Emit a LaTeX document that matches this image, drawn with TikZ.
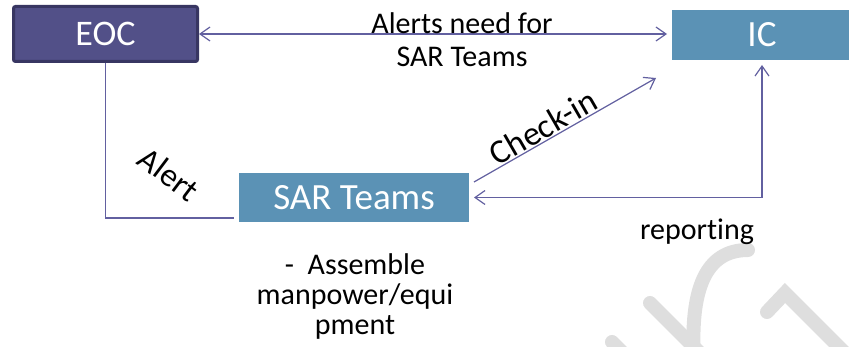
\documentclass[tikz,border=0pt]{standalone}
\usepackage{fontspec}
\setmainfont{Carlito}[Ligatures=CommonOff]
\usetikzlibrary{arrows.meta,shadows,backgrounds}
\definecolor{eocfill}{RGB}{82,80,136}
\definecolor{eocline}{RGB}{56,54,98}
\definecolor{teamfill}{RGB}{91,146,181}
\definecolor{linkcol}{RGB}{98,96,160}
\definecolor{markgray}{RGB}{222,222,222}

\begin{document}
\begin{tikzpicture}[x=1pt,y=-1pt,>={Straight Barb[length=10pt,width=14pt]},
                    link/.style={draw=linkcol,line width=1.2pt},
                    dark node/.style={rectangle,rounded corners=2pt,fill=eocfill,draw=eocline,line width=3pt,
                      text=white,font=\fontsize{36}{40}\selectfont},
                    team node/.style={rectangle,fill=teamfill,draw=white,line width=5pt,text=white,
                      font=\fontsize{37}{40}\selectfont,
                      drop shadow={shadow xshift=1pt,shadow yshift=-2pt,opacity=0.3}},
                    note/.style={font=\fontsize{30}{33}\selectfont,align=center}]
  \useasboundingbox (0,0) rectangle (849,347);
  \node[dark node,minimum width=184pt,minimum height=55pt] (eoc) at (105.5,34) {EOC};
  \node[team node,minimum width=185pt,minimum height=55pt] (ic) at (762,35) {IC};
  \node[team node,minimum width=235pt,minimum height=54pt] (sar) at (354,197.5) {SAR Teams};
  \begin{scope}[on background layer]
    % faint mark in the corner
    \begin{scope}[draw=markgray,line width=14pt,line cap=round]
      \draw (694,360) .. controls (690,290) and (705,250) .. (748,250);
      \draw (650,303) -- (710,363);
      \draw (612,342) -- (640,370);
      \draw (767,312) -- (785,293) -- (860,368);
    \end{scope}
    \draw[link,->] (eoc.south) |- ([xshift=12pt,yshift=9pt]sar.south west);
  \end{scope}
  \draw[link,<->] (eoc.east) -- (eoc.east -| ic.west);
  \draw[link,->] ([yshift=-14pt]sar.north east) -- ([xshift=-11pt,yshift=-13pt]ic.south west);
  \draw[link,<->] (ic.south) |- (sar.east);
  \node[note] (alerts) at (462,40) {Alerts need for\\SAR Teams};
  \node[note,font=\fontsize{33}{36}\selectfont,rotate=-37] (alert) at (169,174) {Alert};
  \node[note,font=\fontsize{34}{36}\selectfont,rotate=30] (checkin) at (543,127) {Check-in};
  \node[note] (reporting) at (697,232) {reporting};
  \node[note,font=\fontsize{30}{30}\selectfont] (assemble) at (355,297) {-\ \ Assemble\\manpower/equi\\pment};
\end{tikzpicture}
\end{document}
